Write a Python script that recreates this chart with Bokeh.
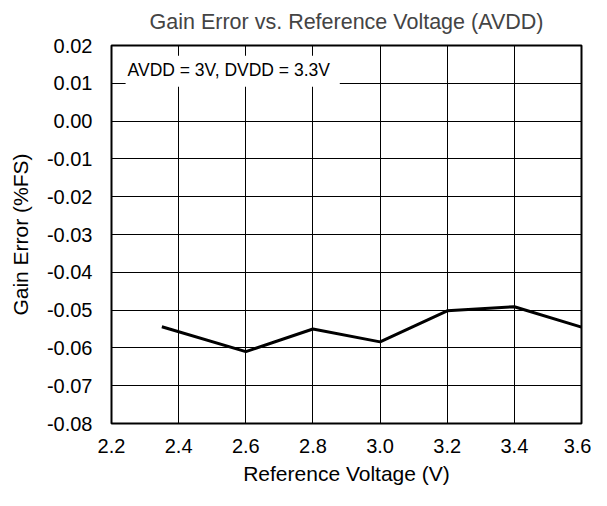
from bokeh.plotting import figure
from bokeh.models import Label, BoxAnnotation, PrintfTickFormatter, FixedTicker, Range1d
from bokeh.embed import file_html
from bokeh.resources import INLINE

ref_voltage = [2.35, 2.6, 2.8, 3.0, 3.2, 3.4, 3.6]
gain_error = [-0.0544, -0.0610, -0.0550, -0.0584, -0.0502, -0.0491, -0.0545]
x_ticks = [2.2, 2.4, 2.6, 2.8, 3.0, 3.2, 3.4, 3.6]
y_ticks = [-0.08, -0.07, -0.06, -0.05, -0.04, -0.03, -0.02, -0.01, 0.0, 0.01, 0.02]
title_text = "Gain Error vs. Reference Voltage (AVDD)"

FONT = "Liberation Sans"

p = figure(width=591, height=490, output_backend="svg", toolbar_location=None,
           x_range=Range1d(2.2, 3.6), y_range=Range1d(-0.08, 0.02),
           min_border_left=111, min_border_right=10, min_border_top=45, min_border_bottom=67)

p.title.text = title_text
p.title.text_font = FONT
p.title.text_font_size = "21.5px"
p.title.text_font_style = "normal"
p.title.align = "center"
p.title.vertical_align = "top"
p.title.offset = 0
p.title.standoff = 19

p.line(ref_voltage, gain_error, line_color="black", line_width=3)

for ax in (p.xaxis[0], p.yaxis[0]):
    ax.axis_line_color = None
    ax.major_tick_line_color = None
    ax.minor_tick_line_color = None
    ax.major_label_text_font = FONT
    ax.major_label_text_font_size = "20px"
    ax.major_label_text_color = "black"
    ax.axis_label_text_font = FONT
    ax.axis_label_text_font_size = "21px"
    ax.axis_label_text_font_style = "normal"
    ax.axis_label_text_color = "black"

p.xaxis.ticker = FixedTicker(ticks=x_ticks)
p.yaxis.ticker = FixedTicker(ticks=y_ticks)
p.xaxis.formatter = PrintfTickFormatter(format="%.1f")
p.yaxis.formatter = PrintfTickFormatter(format="%.2f")
p.xaxis.major_label_standoff = 9
p.yaxis.major_label_standoff = 13
p.xaxis.axis_label = "Reference Voltage (V)"
p.yaxis.axis_label = "Gain Error (%FS)"
p.xaxis.axis_label_standoff = 6
p.yaxis.axis_label_standoff = 12

p.xgrid.grid_line_color = "black"
p.ygrid.grid_line_color = "black"
p.xgrid.grid_line_width = 1
p.ygrid.grid_line_width = 1

p.outline_line_color = "black"
p.outline_line_width = 2
p.background_fill_color = "white"
p.border_fill_color = "white"

p.add_layout(BoxAnnotation(left=2.242, right=2.88, top=0.0173, bottom=0.0091,
                           fill_color="white", fill_alpha=1.0, line_color=None, level="overlay"))
p.add_layout(Label(x=2.242, y=0.0134, x_offset=2,
                   text="AVDD = 3V, DVDD = 3.3V", text_font=FONT, text_font_size="17.5px",
                   text_baseline="middle", text_align="left", text_color="black", level="overlay"))

open("out.html", "w").write(file_html(p, INLINE))
